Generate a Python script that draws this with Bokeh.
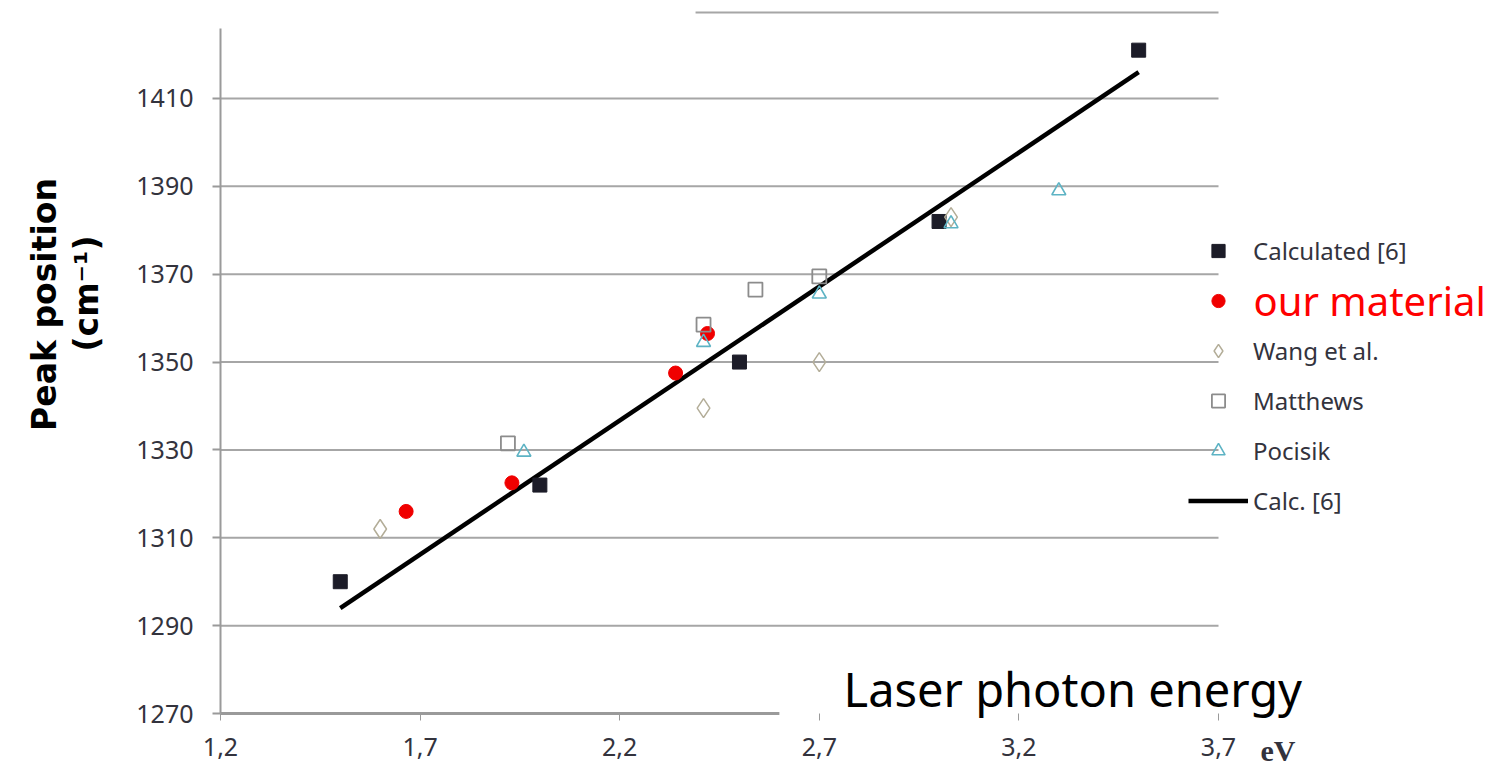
import math
from bokeh.plotting import figure
from bokeh.models import Range1d, FixedTicker, Label, Legend, LegendItem
from bokeh.embed import file_html
from bokeh.resources import INLINE

# ---- data (eV, cm^-1) ----
calc_x = [1.5, 2.0, 2.5, 3.0, 3.5]
calc_y = [1300, 1322, 1350, 1382, 1421]
ours_x = [1.665, 1.93, 2.34, 2.42]
ours_y = [1316, 1322.5, 1347.5, 1356.5]
wang_x = [1.6, 2.41, 2.7, 3.03]
wang_y = [1312, 1339.5, 1350, 1383]
matt_x = [1.92, 2.41, 2.54, 2.7]
matt_y = [1331.5, 1358.5, 1366.5, 1369.5]
poc_x = [1.96, 2.41, 2.7, 3.03, 3.3]
poc_y = [1329.5, 1354.5, 1365.5, 1381.5, 1389]
line_x = [1.5, 3.5]
line_y = [1294, 1416]

x_ticks = [1.2, 1.7, 2.2, 2.7, 3.2, 3.7]
x_tick_labels = ["1,2", "1,7", "2,2", "2,7", "3,2", "3,7"]
y_ticks = [1270, 1290, 1310, 1330, 1350, 1370, 1390, 1410]

legend_labels = ["Calculated [6]", "our material", "Wang et al.", "Matthews", "Pocisik", "Calc. [6]"]

GRID = "#a6a6a6"
AXIS = "#9a9a9a"
TXT = "#33333d"
TICK_FONT = "Noto Sans"

# page-pixel -> data helpers, used only to place annotations
PX_PER_EV = 399.2
PX_PER_CM = 4.393
X0_PX, Y0_PX = 220, 713          # page pixel of (1.2, 1270)
W, H = 1504, 770                  # figure size (page has no body margin)


def dx(px):
    return x_ticks[0] + (px - X0_PX) / PX_PER_EV


def dy(py):
    return y_ticks[0] + (Y0_PX - py) / PX_PER_CM


p = figure(width=W, height=H,
           x_range=Range1d(dx(0), dx(W)), y_range=Range1d(dy(H), dy(0)),
           output_backend="svg", toolbar_location=None, title=None,
           min_border=0, min_border_left=0, min_border_right=0,
           min_border_top=0, min_border_bottom=0)
p.outline_line_color = None
p.background_fill_color = "white"
p.border_fill_color = "white"
p.xgrid.visible = False
p.ygrid.visible = False

# horizontal grid lines only across the data area
n = len(y_ticks) - 1
p.segment(x0=[x_ticks[0]] * n, y0=y_ticks[1:], x1=[x_ticks[-1]] * n, y1=y_ticks[1:],
          line_color=GRID, line_width=2)

# y axis
ya = p.yaxis[0]
ya.fixed_location = x_ticks[0]
ya.ticker = FixedTicker(ticks=y_ticks)
ya.bounds = (1270, 1426)
ya.axis_line_color = AXIS
ya.axis_line_width = 2
ya.major_tick_line_color = AXIS
ya.major_tick_line_width = 2
ya.major_tick_in = 0
ya.major_tick_out = 8
ya.minor_tick_line_color = None
ya.major_label_text_font = TICK_FONT
ya.major_label_text_font_size = "25px"
ya.major_label_text_color = TXT
ya.major_label_standoff = 19

# x axis
xa = p.xaxis[0]
xa.fixed_location = y_ticks[0]
xa.ticker = FixedTicker(ticks=x_ticks)
xa.major_label_overrides = {t: l for t, l in zip(x_ticks, x_tick_labels)}
xa.axis_line_color = None
xa.major_tick_line_color = AXIS
xa.major_tick_line_width = 1
xa.major_tick_in = 0
xa.major_tick_out = 7
xa.minor_tick_line_color = None
xa.major_label_text_font = TICK_FONT
xa.major_label_text_font_size = "25px"
xa.major_label_text_color = TXT
xa.major_label_standoff = 17

# partial bottom axis line and partial top border (decorations)
X_AXIS_VISIBLE_END = 2.6
TOP_LINE_START = 2.39
p.segment(x0=[x_ticks[0]], y0=[y_ticks[0]], x1=[X_AXIS_VISIBLE_END], y1=[y_ticks[0]],
          line_color=AXIS, line_width=3)
p.segment(x0=[TOP_LINE_START], y0=[dy(12)], x1=[x_ticks[-1]], y1=[dy(12)],
          line_color=GRID, line_width=2)

# data
r_line = p.line(line_x, line_y, line_color="black", line_width=4.5)
r_calc = p.scatter(calc_x, calc_y, marker="square", size=14,
                   fill_color="#1c1c28", line_color="#1c1c28")
r_ours = p.scatter(ours_x, ours_y, marker="circle", size=14,
                   fill_color="#f00000", line_color="#f00000")
r_wang = p.scatter(wang_x, wang_y, marker="diamond", size=19,
                   fill_color=None, line_color="#b3ad98", line_width=1.5)
r_matt = p.scatter(matt_x, matt_y, marker="square", size=14,
                   fill_color=None, line_color="#8c8c8c", line_width=1.8)
r_poc = p.scatter(poc_x, poc_y, marker="triangle", size=14,
                  fill_color=None, line_color="#5db3c4", line_width=1.6)

renderers = [r_calc, r_ours, r_wang, r_matt, r_poc, r_line]
items = []
for lab, r in zip(legend_labels, renderers):
    items.append(LegendItem(label=" " if lab == "our material" else lab, renderers=[r]))
legend = Legend(items=items, location=(1188, H - 516.5),
                glyph_width=60, glyph_height=33, label_height=33,
                spacing=17, label_standoff=5, padding=0, margin=0,
                border_line_color=None, background_fill_alpha=0,
                label_text_font=TICK_FONT, label_text_font_size="24px",
                label_text_color=TXT)
p.add_layout(legend, "center")

p.add_layout(Label(x=dx(1253), y=dy(300), text=legend_labels[1],
                   text_font="Noto Sans", text_font_size="40px",
                   text_color="#ff0000", text_baseline="middle", text_align="left"))

p.add_layout(Label(x=dx(843), y=dy(688), text="Laser photon energy",
                   text_font="Noto Sans", text_font_size="47px",
                   text_color="black", text_baseline="middle", text_align="left"))

p.add_layout(Label(x=dx(1260), y=dy(750), text="eV",
                   text_font="Liberation Serif", text_font_size="30px",
                   text_font_style="bold", text_color=TXT,
                   text_baseline="middle", text_align="left"))

p.add_layout(Label(x=dx(44), y=dy(304), text="Peak position", angle=math.pi / 2,
                   text_font="DejaVu Sans", text_font_size="33px",
                   text_font_style="bold", text_color="black",
                   text_baseline="middle", text_align="center"))
p.add_layout(Label(x=dx(86), y=dy(293), text="(cm\u207b\u00b9)", angle=math.pi / 2,
                   text_font="DejaVu Sans", text_font_size="33px",
                   text_font_style="bold", text_color="black",
                   text_baseline="middle", text_align="center"))

open("out.html", "w").write(file_html(p, INLINE))
